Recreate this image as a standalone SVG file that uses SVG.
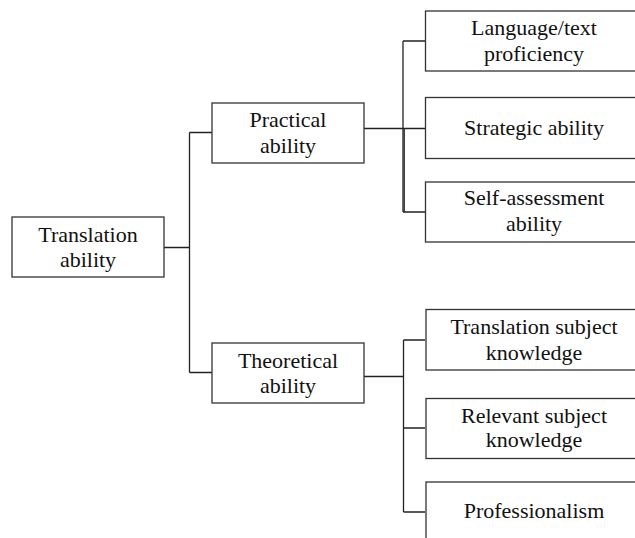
<svg xmlns="http://www.w3.org/2000/svg" width="635" height="538" viewBox="0 0 635 538">
<style>
.box{fill:#fff;stroke:#333;stroke-width:1.3}
.t{font-family:"Liberation Serif","Times New Roman",serif;font-size:22px;fill:#111;text-anchor:middle}
.c{fill:none;stroke:#222;stroke-width:1.3}
</style>
<rect width="635" height="538" fill="#fff"/>
<g id="connectors">
<path class="c" d="M164 247.5H189.5M189.5 132.5V372.5M189.5 132.5H212M189.5 372.5H212"/>
<path class="c" d="M364 128.5H425M403 41V212M403 41H425M403 212H425"/>
<path class="c" d="M404.2 128.5V212"/>
<path class="c" d="M364 376.5H403.5M403.5 340V512M403.5 340H425M403.5 428H425M403.5 512H425"/>
</g>
<g id="translation-ability">
<rect class="box" x="12" y="217" width="152" height="60"/>
<text class="t" x="88" y="242">Translation</text>
<text class="t" x="88" y="267">ability</text>
</g>
<g id="practical-ability">
<rect class="box" x="212" y="103" width="152" height="60"/>
<text class="t" x="288" y="127">Practical</text>
<text class="t" x="288" y="153">ability</text>
</g>
<g id="theoretical-ability">
<rect class="box" x="212" y="343" width="152" height="60"/>
<text class="t" x="288" y="368">Theoretical</text>
<text class="t" x="288" y="393">ability</text>
</g>
<g id="language-text-proficiency">
<rect class="box" x="425.5" y="11" width="220" height="60"/>
<text class="t" x="534" y="35">Language/text</text>
<text class="t" x="534" y="61">proficiency</text>
</g>
<g id="strategic-ability">
<rect class="box" x="425.5" y="97.5" width="220" height="61"/>
<text class="t" x="534" y="135">Strategic ability</text>
</g>
<g id="self-assessment-ability">
<rect class="box" x="425.5" y="182" width="220" height="60"/>
<text class="t" x="534" y="205">Self-assessment</text>
<text class="t" x="534" y="231">ability</text>
</g>
<g id="translation-subject-knowledge">
<rect class="box" x="426" y="309.5" width="220" height="60.5"/>
<text class="t" x="534" y="334">Translation subject</text>
<text class="t" x="534" y="360">knowledge</text>
</g>
<g id="relevant-subject-knowledge">
<rect class="box" x="426" y="398.5" width="220" height="60"/>
<text class="t" x="534" y="423">Relevant subject</text>
<text class="t" x="534" y="447">knowledge</text>
</g>
<g id="professionalism">
<rect class="box" x="426" y="482" width="220" height="70"/>
<text class="t" x="534" y="518">Professionalism</text>
</g>
</svg>
